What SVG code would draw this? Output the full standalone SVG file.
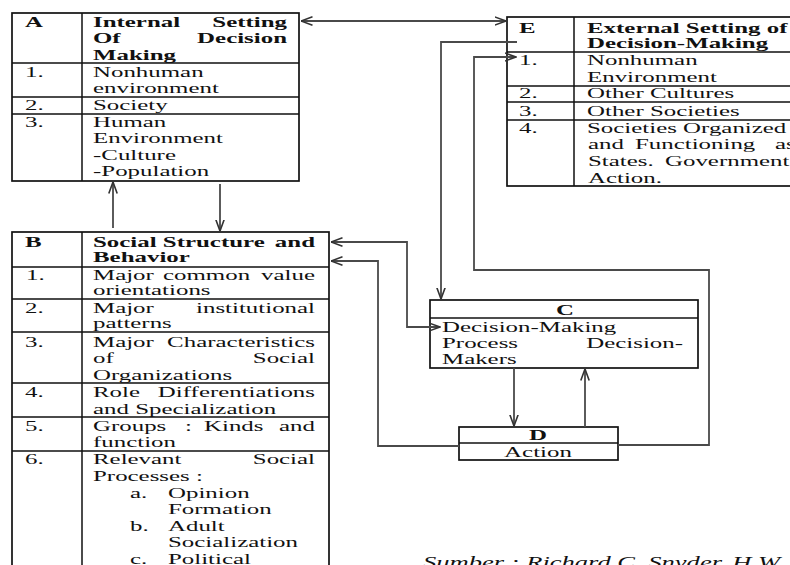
<svg xmlns="http://www.w3.org/2000/svg" width="790" height="565" viewBox="0 0 790 565">
<style>
.t{font-family:"Liberation Serif","Times New Roman",serif;font-size:15px;fill:#111}
.b{font-weight:bold}
.i{font-style:italic}
.e{text-anchor:end}
.m{text-anchor:middle}
.box{fill:#fff;stroke:#111;stroke-width:1.7}
.ln{stroke:#111;stroke-width:1.5;fill:none}
.cn{stroke:#4a4a4a;stroke-width:1.8;fill:none}
</style>
<defs>
<marker id="ah" viewBox="0 0 12 10" refX="11.5" refY="5" markerWidth="12" markerHeight="10" markerUnits="userSpaceOnUse" orient="auto-start-reverse">
<path d="M0,0.8 L11.5,5 L0,9.2" fill="none" stroke="#333" stroke-width="1.6"/>
</marker>
</defs>
<rect width="790" height="565" fill="#fff"/>

<g id="nodeA">
<rect class="box" x="12" y="13" width="287" height="168"/>
<path class="ln" d="M82,13 V181 M12,63 H299 M12,97 H299 M12,114 H299"/>
<text class="t b" transform="matrix(1.66 0 0 1 25 26.7)">A</text>
<text class="t b" transform="matrix(1.66 0 0 1 93 26.7)">Internal</text>
<text class="t b e" transform="matrix(1.66 0 0 1 287 26.7)">Setting</text>
<text class="t b" transform="matrix(1.66 0 0 1 93 43.3)">Of</text>
<text class="t b e" transform="matrix(1.66 0 0 1 287 43.3)">Decision</text>
<text class="t b" transform="matrix(1.66 0 0 1 93 59.5)">Making</text>
<text class="t" transform="matrix(1.66 0 0 1 25 77.3)">1.</text>
<text class="t" transform="matrix(1.66 0 0 1 93 77.3)">Nonhuman</text>
<text class="t" transform="matrix(1.66 0 0 1 93 92.7)">environment</text>
<text class="t" transform="matrix(1.66 0 0 1 25 110)">2.</text>
<text class="t" transform="matrix(1.66 0 0 1 93 110)">Society</text>
<text class="t" transform="matrix(1.66 0 0 1 25 127.3)">3.</text>
<text class="t" transform="matrix(1.66 0 0 1 93 127.3)">Human</text>
<text class="t" transform="matrix(1.66 0 0 1 93 143.3)">Environment</text>
<text class="t" transform="matrix(1.66 0 0 1 93 160)">-Culture</text>
<text class="t" transform="matrix(1.66 0 0 1 93 176)">-Population</text>
</g>

<g id="nodeE">
<rect class="box" x="507" y="17" width="300" height="169"/>
<path class="ln" d="M574,17 V186 M507,52 H800 M507,86 H800 M507,102 H800 M507,120 H800"/>
<text class="t b" transform="matrix(1.66 0 0 1 519 32.7)">E</text>
<text class="t b" transform="matrix(1.66 0 0 1 587 32.7)">External Setting of</text>
<text class="t b" transform="matrix(1.66 0 0 1 587 48.3)">Decision-Making</text>
<text class="t" transform="matrix(1.66 0 0 1 519 65)">1.</text>
<text class="t" transform="matrix(1.66 0 0 1 587 65)">Nonhuman</text>
<text class="t" transform="matrix(1.66 0 0 1 587 81.7)">Environment</text>
<text class="t" transform="matrix(1.66 0 0 1 519 98.3)">2.</text>
<text class="t" transform="matrix(1.66 0 0 1 587 98.3)">Other Cultures</text>
<text class="t" transform="matrix(1.66 0 0 1 519 115.7)">3.</text>
<text class="t" transform="matrix(1.66 0 0 1 587 115.7)">Other Societies</text>
<text class="t" transform="matrix(1.66 0 0 1 519 132.7)">4.</text>
<text class="t" transform="matrix(1.66 0 0 1 587 132.7)">Societies Organized</text>
<text class="t" transform="matrix(1.66 0 0 1 588 149.3)">and</text>
<text class="t" transform="matrix(1.66 0 0 1 635 149.3)">Functioning</text>
<text class="t" transform="matrix(1.66 0 0 1 775 149.3)">as</text>
<text class="t" transform="matrix(1.66 0 0 1 588 166)">States.</text>
<text class="t" transform="matrix(1.66 0 0 1 665 166)">Government</text>
<text class="t" transform="matrix(1.66 0 0 1 588 182.7)">Action.</text>
</g>

<g id="nodeB">
<rect class="box" x="12" y="232" width="317" height="345"/>
<path class="ln" d="M82,232 V577 M12,267 H329 M12,299 H329 M12,332 H329 M12,383 H329 M12,417 H329 M12,451 H329"/>
<text class="t b" transform="matrix(1.66 0 0 1 25 246.7)">B</text>
<text class="t b" transform="matrix(1.66 0 0 1 93 246.7)">Social Structure</text>
<text class="t b e" transform="matrix(1.66 0 0 1 315 246.7)">and</text>
<text class="t b" transform="matrix(1.66 0 0 1 93 262.3)">Behavior</text>
<text class="t" transform="matrix(1.66 0 0 1 26 280)">1.</text>
<text class="t" transform="matrix(1.66 0 0 1 93 280)">Major</text>
<text class="t" transform="matrix(1.66 0 0 1 163 280)">common</text>
<text class="t e" transform="matrix(1.66 0 0 1 315 280)">value</text>
<text class="t" transform="matrix(1.66 0 0 1 93 295)">orientations</text>
<text class="t" transform="matrix(1.66 0 0 1 25 313.3)">2.</text>
<text class="t" transform="matrix(1.66 0 0 1 93 313.3)">Major</text>
<text class="t e" transform="matrix(1.66 0 0 1 315 313.3)">institutional</text>
<text class="t" transform="matrix(1.66 0 0 1 93 328.3)">patterns</text>
<text class="t" transform="matrix(1.66 0 0 1 25 346.7)">3.</text>
<text class="t" transform="matrix(1.66 0 0 1 93 346.7)">Major</text>
<text class="t e" transform="matrix(1.66 0 0 1 315 346.7)">Characteristics</text>
<text class="t" transform="matrix(1.66 0 0 1 93 363.3)">of</text>
<text class="t e" transform="matrix(1.66 0 0 1 315 363.3)">Social</text>
<text class="t" transform="matrix(1.66 0 0 1 93 380)">Organizations</text>
<text class="t" transform="matrix(1.66 0 0 1 25 396.7)">4.</text>
<text class="t" transform="matrix(1.66 0 0 1 93 396.7)">Role</text>
<text class="t e" transform="matrix(1.66 0 0 1 315 396.7)">Differentiations</text>
<text class="t" transform="matrix(1.66 0 0 1 93 414)">and Specialization</text>
<text class="t" transform="matrix(1.66 0 0 1 25 430.7)">5.</text>
<text class="t" transform="matrix(1.66 0 0 1 93 430.7)">Groups</text>
<text class="t" transform="matrix(1.66 0 0 1 185 430.7)">:</text>
<text class="t" transform="matrix(1.66 0 0 1 204 430.7)">Kinds</text>
<text class="t e" transform="matrix(1.66 0 0 1 315 430.7)">and</text>
<text class="t" transform="matrix(1.66 0 0 1 93 447.3)">function</text>
<text class="t" transform="matrix(1.66 0 0 1 25 464)">6.</text>
<text class="t" transform="matrix(1.66 0 0 1 93 464)">Relevant</text>
<text class="t e" transform="matrix(1.66 0 0 1 315 464)">Social</text>
<text class="t" transform="matrix(1.66 0 0 1 93 480.7)">Processes :</text>
<text class="t" transform="matrix(1.66 0 0 1 130 498.3)">a.</text>
<text class="t" transform="matrix(1.66 0 0 1 168 498.3)">Opinion</text>
<text class="t" transform="matrix(1.66 0 0 1 168 514)">Formation</text>
<text class="t" transform="matrix(1.66 0 0 1 130 530.7)">b.</text>
<text class="t" transform="matrix(1.66 0 0 1 168 530.7)">Adult</text>
<text class="t" transform="matrix(1.66 0 0 1 168 547.3)">Socialization</text>
<text class="t" transform="matrix(1.66 0 0 1 130 564)">c.</text>
<text class="t" transform="matrix(1.66 0 0 1 168 564)">Political</text>
</g>

<g id="nodeC">
<rect class="box" x="430" y="300" width="268" height="68"/>
<path class="ln" d="M430,318 H698"/>
<text class="t b m" transform="matrix(1.66 0 0 1 565 315)">C</text>
<text class="t" transform="matrix(1.66 0 0 1 442 331.7)">Decision-Making</text>
<text class="t" transform="matrix(1.66 0 0 1 442 348.3)">Process</text>
<text class="t e" transform="matrix(1.66 0 0 1 683 348.3)">Decision-</text>
<text class="t" transform="matrix(1.66 0 0 1 442 364)">Makers</text>
</g>

<g id="nodeD">
<rect class="box" x="459" y="427" width="159" height="33"/>
<path class="ln" d="M459,443 H618"/>
<text class="t b m" transform="matrix(1.66 0 0 1 538 440)">D</text>
<text class="t m" transform="matrix(1.66 0 0 1 538 456.7)">Action</text>
</g>

<g id="connectors">
<path class="cn" d="M301,21 H506" marker-start="url(#ah)" marker-end="url(#ah)"/>
<path class="cn" d="M517,42 H441 V299" marker-end="url(#ah)"/>
<path class="cn" d="M618,445 H709 V270 H474 V57 H516" marker-end="url(#ah)"/>
<path class="cn" d="M331,242 H407 V327 H440" marker-start="url(#ah)" marker-end="url(#ah)"/>
<path class="cn" d="M459,446 H378 V261 H331" marker-end="url(#ah)"/>
<path class="cn" d="M514,368 V426" marker-end="url(#ah)"/>
<path class="cn" d="M585,427 V369" marker-end="url(#ah)"/>
<path class="cn" d="M113,228 V182" marker-end="url(#ah)"/>
<path class="cn" d="M220,184 V231" marker-end="url(#ah)"/>
</g>

<g id="caption">
<text class="t i" style="font-size:16px" transform="matrix(1.66 0 0 1 423 568)">Sumber : Richard C. Snyder, H.W.</text>
</g>
</svg>
